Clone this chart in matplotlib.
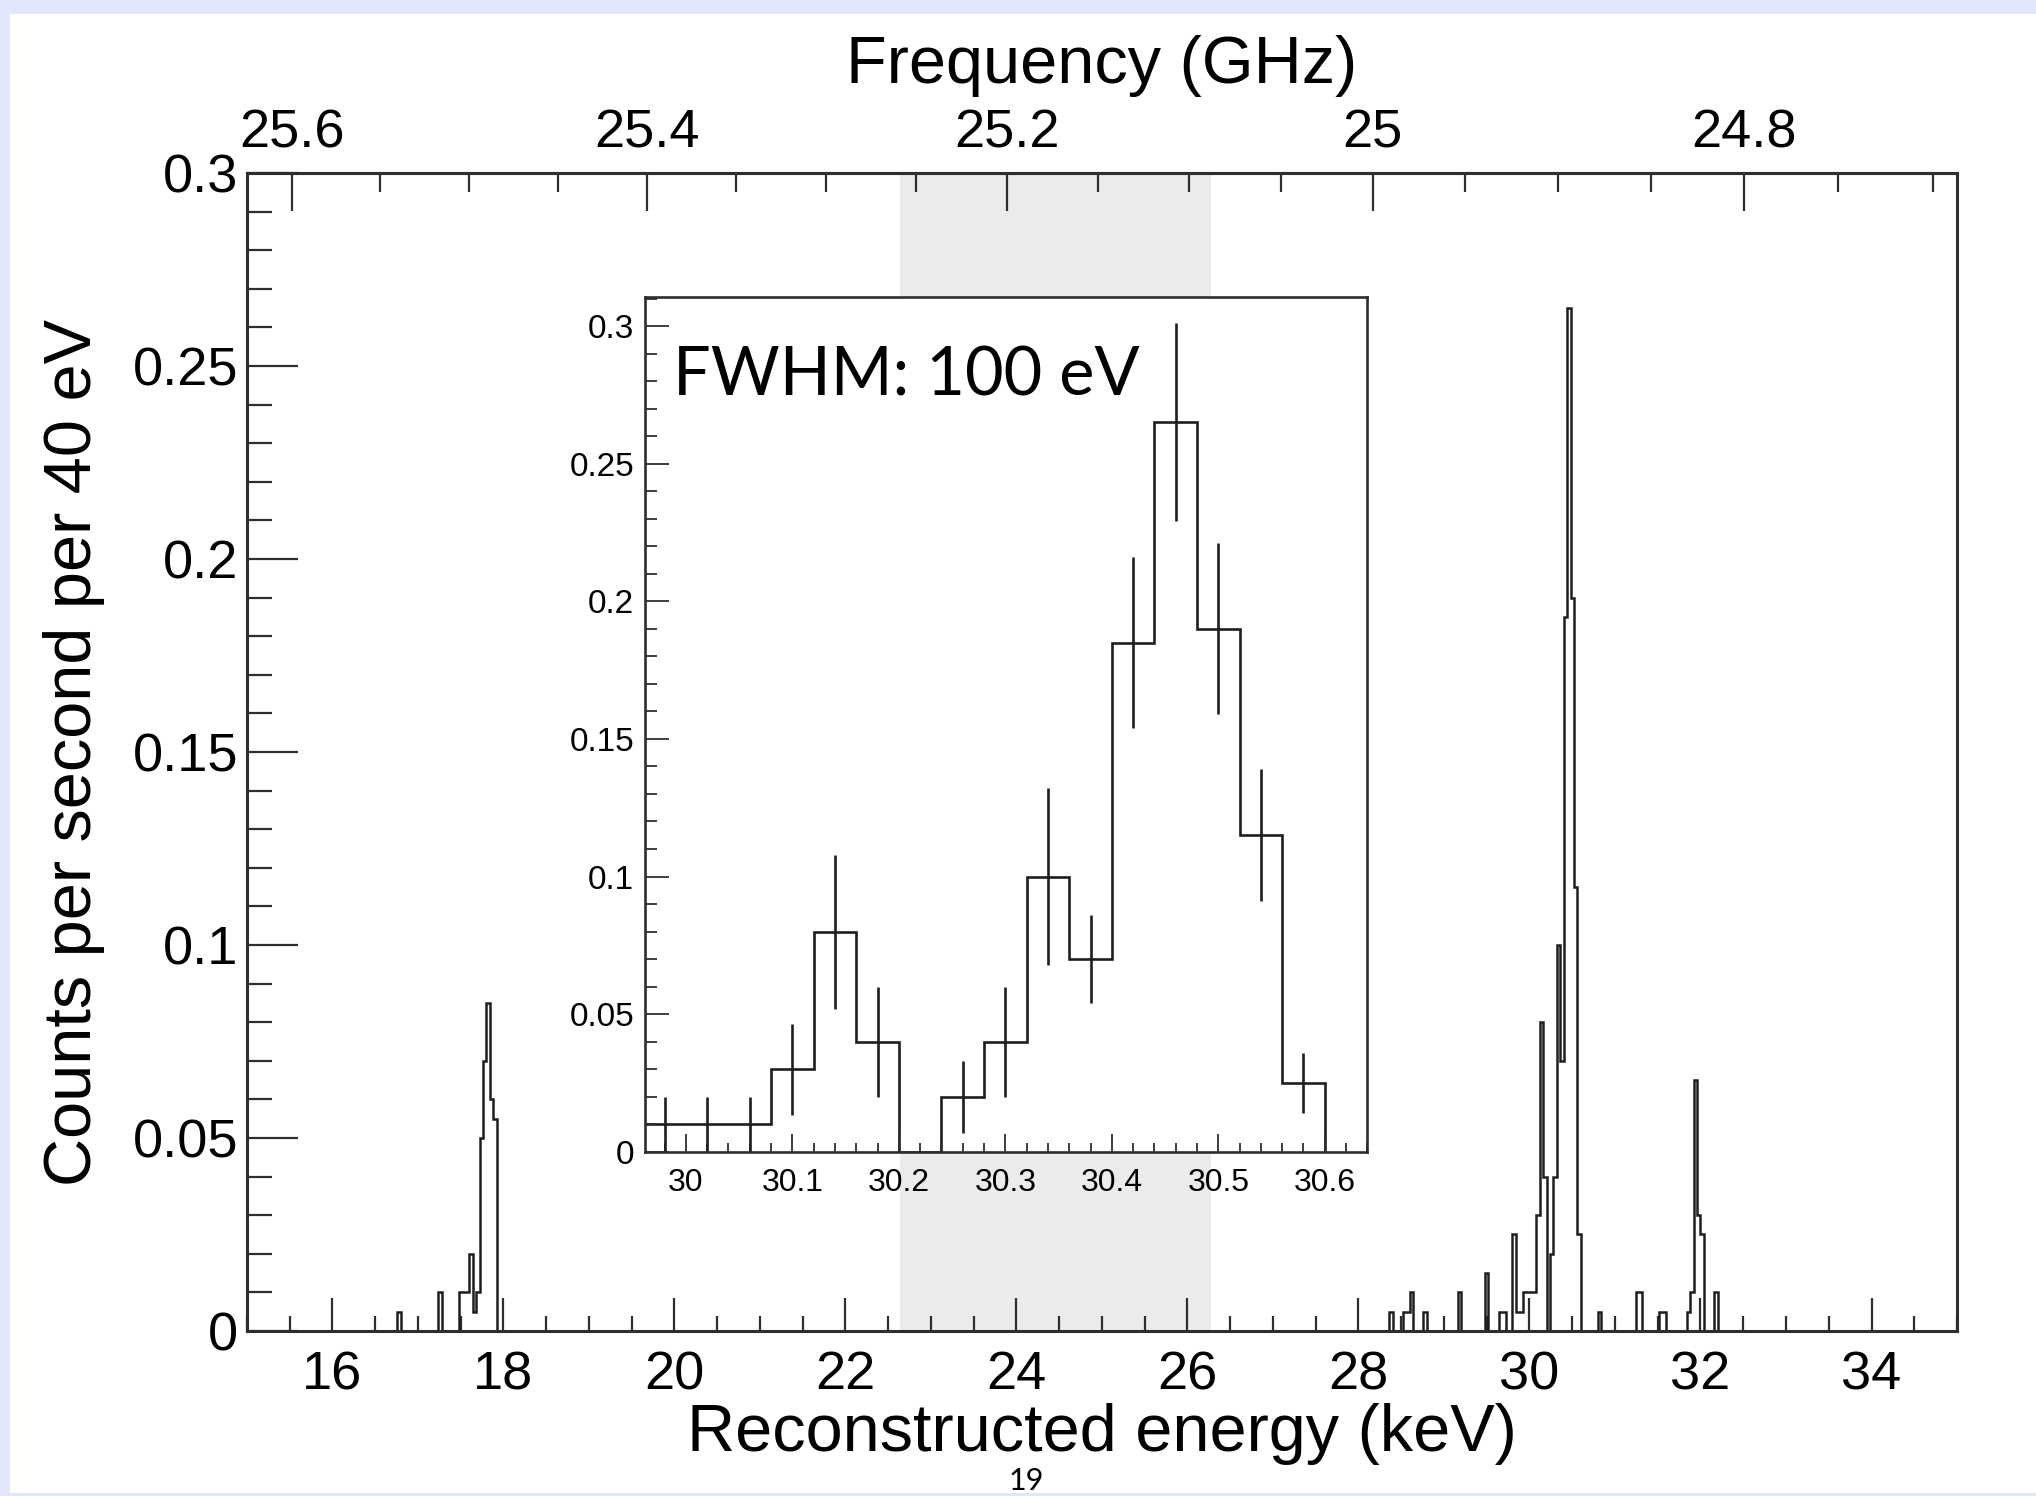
import numpy as np
import matplotlib
matplotlib.use('Agg')
import matplotlib.pyplot as plt
from matplotlib.ticker import MultipleLocator, FixedLocator, FuncFormatter
from matplotlib.patches import Rectangle

plt.rcParams['font.family'] = ['Liberation Sans', 'DejaVu Sans']

# main spectrum: 40 eV bins, only the non-empty ones outside the inset window
bin_width = 0.04
e_lo, e_hi = 15.0, 35.0
main_bin_lo = [16.76, 17.24, 17.48, 17.52, 17.56, 17.60, 17.64, 17.68, 17.72,
               17.76, 17.80, 17.84, 17.88,
               28.36, 28.52, 28.56, 28.60, 28.76, 29.16, 29.48, 29.64, 29.68,
               29.80, 29.84, 29.88, 29.92,
               30.80, 31.24, 31.28, 31.52, 31.56, 31.84, 31.88, 31.92, 31.96,
               32.00, 32.16]
main_vals = [0.005, 0.01, 0.01, 0.01, 0.01, 0.02, 0.005, 0.01, 0.05,
             0.07, 0.085, 0.06, 0.055,
             0.005, 0.005, 0.005, 0.01, 0.005, 0.01, 0.015, 0.005, 0.005,
             0.025, 0.005, 0.005, 0.01,
             0.005, 0.01, 0.01, 0.005, 0.005, 0.005, 0.01, 0.065, 0.03,
             0.025, 0.01]

# zoomed region (inset), same binning
inset_bin_lo = [29.96, 30.00, 30.04, 30.08, 30.12, 30.16, 30.20, 30.24,
                30.28, 30.32, 30.36, 30.40, 30.44, 30.48, 30.52, 30.56]
inset_vals = [0.01, 0.01, 0.01, 0.03, 0.08, 0.04, 0.0, 0.02,
              0.04, 0.10, 0.07, 0.185, 0.265, 0.19, 0.115, 0.025]
inset_err = [0.01, 0.01, 0.01, 0.0165, 0.028, 0.02, 0.0, 0.013,
             0.02, 0.032, 0.016, 0.031, 0.036, 0.031, 0.024, 0.011]

band = (22.635, 26.28)          # grey shaded energy window
freq_ticks = [25.6, 25.4, 25.2, 25.0, 24.8]
FC = 26.378                     # cyclotron freq at zero energy (GHz)

def e2f(e):
    return FC / (1.0 + np.asarray(e) / 511.0)

def f2e(f):
    return 511.0 * (FC / np.asarray(f) - 1.0)

fmt = FuncFormatter(lambda v, p: '%g' % round(v, 4))
lc = '#1e1e1e'
axc = '#2e2e2e'

edges = np.round(np.arange(e_lo, e_hi + bin_width / 2, bin_width), 2)
counts = np.zeros(len(edges) - 1)
for lo, v in zip(main_bin_lo + inset_bin_lo, main_vals + inset_vals):
    counts[int(round((lo - e_lo) / bin_width))] = v

fig = plt.figure(figsize=(20.36, 14.96), dpi=100, facecolor='#e2e6fb')
fig.add_artist(Rectangle((10 / 2036, 3 / 1496), 1 - 10 / 2036, 1 - 17 / 1496,
                         transform=fig.transFigure, fc='white', ec='none', zorder=-1))

ax = fig.add_axes([0.1213, 0.1103, 0.8399, 0.7741])
ax.axvspan(band[0], band[1], color='#ebebeb', lw=0, zorder=0)
ax.stairs(counts, edges, color=lc, lw=1.8, baseline=0, zorder=2)
ax.set_xlim(e_lo, e_hi)
ax.set_ylim(0, 0.3)
for s in ax.spines.values():
    s.set_linewidth(2.2)
    s.set_color(axc)

ax.xaxis.set_major_locator(MultipleLocator(2))
ax.xaxis.set_minor_locator(MultipleLocator(0.5))
ax.yaxis.set_major_locator(MultipleLocator(0.05))
ax.yaxis.set_minor_locator(MultipleLocator(0.01))
ax.xaxis.set_major_formatter(fmt)
ax.yaxis.set_major_formatter(fmt)
ax.tick_params(which='both', direction='in', top=False, right=False,
               width=1.6, color=axc)
ax.tick_params(axis='x', which='major', length=24, pad=14, labelsize=39)
ax.tick_params(axis='x', which='minor', length=11)
ax.tick_params(axis='y', which='major', length=37, pad=6.5, labelsize=39)
ax.tick_params(axis='y', which='minor', length=18)

ax.set_xlabel('Reconstructed energy (keV)', fontsize=48)
ax.xaxis.set_label_coords(0.5, -0.062)
ax.set_ylabel('Counts per second per 40 eV', fontsize=48)
ax.yaxis.set_label_coords(-0.083, 0.5)

sec = ax.secondary_xaxis('top', functions=(e2f, f2e))
sec.xaxis.set_major_locator(FixedLocator(freq_ticks))
sec.xaxis.set_minor_locator(FixedLocator(np.arange(24.70, 25.70, 0.05)))
sec.xaxis.set_major_formatter(fmt)
sec.tick_params(which='both', direction='in', width=1.6, color=axc)
sec.tick_params(which='major', length=27, pad=10.5, labelsize=39)
sec.tick_params(which='minor', length=14)
sec.spines['top'].set_linewidth(2.2)
sec.spines['top'].set_color(axc)
sec.set_xlabel('Frequency (GHz)', fontsize=48, labelpad=18)

# inset
axin = fig.add_axes([0.317, 0.2301, 0.3546, 0.5711], facecolor='white')
ilo = np.array(inset_bin_lo)
iv = np.array(inset_vals)
ie = np.array(inset_err)
iedges = np.append(ilo, ilo[-1] + bin_width)
axin.stairs(iv, iedges, color=lc, lw=1.9, baseline=0)
m = ie > 0
axin.errorbar(ilo[m] + bin_width / 2, iv[m], yerr=ie[m], fmt='none',
              ecolor=lc, elinewidth=1.9, capsize=0)
axin.set_xlim(29.962, 30.640)
axin.set_ylim(0, 0.3104)
for s in axin.spines.values():
    s.set_linewidth(1.9)
    s.set_color(axc)
axin.xaxis.set_major_locator(MultipleLocator(0.1))
axin.xaxis.set_minor_locator(MultipleLocator(0.02))
axin.yaxis.set_major_locator(MultipleLocator(0.05))
axin.yaxis.set_minor_locator(MultipleLocator(0.01))
axin.xaxis.set_major_formatter(fmt)
axin.yaxis.set_major_formatter(fmt)
axin.tick_params(which='both', direction='in', top=False, right=False,
                 width=1.3, color=axc)
axin.tick_params(axis='x', which='major', length=13, pad=12, labelsize=23)
axin.tick_params(axis='x', which='minor', length=6.5)
axin.tick_params(axis='y', which='major', length=17, pad=8, labelsize=24)
axin.tick_params(axis='y', which='minor', length=8.5)
axin.text(0.0382, 0.8846, 'FWHM: 100 eV', transform=axin.transAxes,
          fontsize=48, family=['Lato', 'DejaVu Sans'], va='baseline', ha='left')

# slide number at the bottom edge
fig.text(1026 / 2036, 0.5 / 1496, '19', ha='center', va='bottom',
         fontsize=22, family=['Lato', 'DejaVu Sans'], zorder=5)

fig.savefig('out.png', dpi=100, facecolor=fig.get_facecolor())
